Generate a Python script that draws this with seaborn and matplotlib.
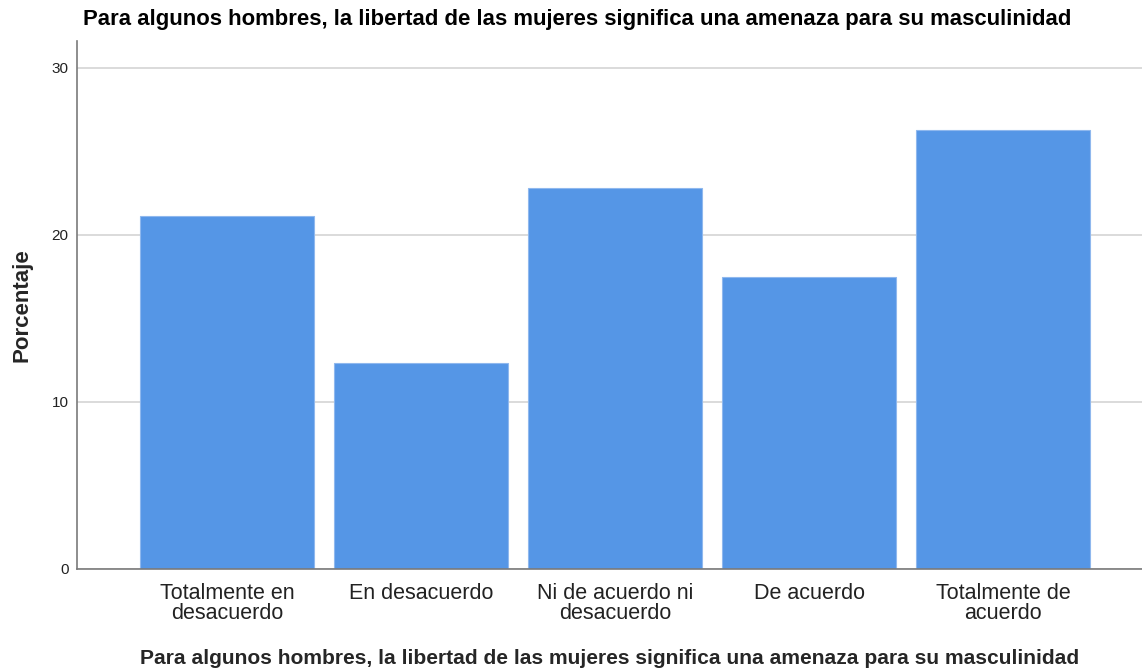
import matplotlib
matplotlib.use("Agg")
import matplotlib.pyplot as plt
import seaborn as sns
import pandas as pd

categorias = ["Totalmente en\ndesacuerdo", "En desacuerdo", "Ni de acuerdo ni\ndesacuerdo",
              "De acuerdo", "Totalmente de\nacuerdo"]
porcentaje = [21.1, 12.3, 22.8, 17.5, 26.3]
yticks = [0, 10, 20, 30]

titulo = "Para algunos hombres, la libertad de las mujeres significa una amenaza para su masculinidad"

sns.set_style("white")
plt.rcParams['font.family'] = ['Liberation Sans', 'DejaVu Sans']

data = pd.DataFrame({"cat": categorias, "pct": porcentaje})

fig = plt.figure(figsize=(11.42, 6.68), dpi=100)
ax = fig.add_axes([77/1142, 1 - 569/668, 1 - 77/1142, (569 - 41)/668])

ax.set_yticks(yticks)
ax.yaxis.grid(True, color="#d4d4d4", linewidth=1.2)
ax.set_axisbelow(True)

sns.barplot(data=data, x="cat", y="pct", color="#5596e6", saturation=1, width=0.9,
            edgecolor="#8fb8ee", linewidth=0.8, ax=ax)

ax.set_xlim(-0.773, 4.716)
ax.set_ylim(0, 31.6)
for s in ["top", "right"]:
    ax.spines[s].set_visible(False)
for s in ["left", "bottom"]:
    ax.spines[s].set_color("#7a7a7a")
    ax.spines[s].set_linewidth(1.2)

ax.tick_params(axis="y", labelsize=11, length=0, pad=6, labelcolor="#222222")
ax.tick_params(axis="x", labelsize=15.5, length=0, pad=10, labelcolor="#222222")
for lab in ax.get_xticklabels():
    lab.set_linespacing(0.95)

ax.set_ylabel("Porcentaje", fontsize=16, fontweight="bold", labelpad=14)
ax.set_xlabel(titulo, fontsize=15.1, fontweight="bold", labelpad=18)

fig.text(577/1142, 1 - 19/668, titulo, ha="center", va="center", fontsize=15.9,
         fontweight="bold", color="black")

fig.savefig("out.png", dpi=100)
